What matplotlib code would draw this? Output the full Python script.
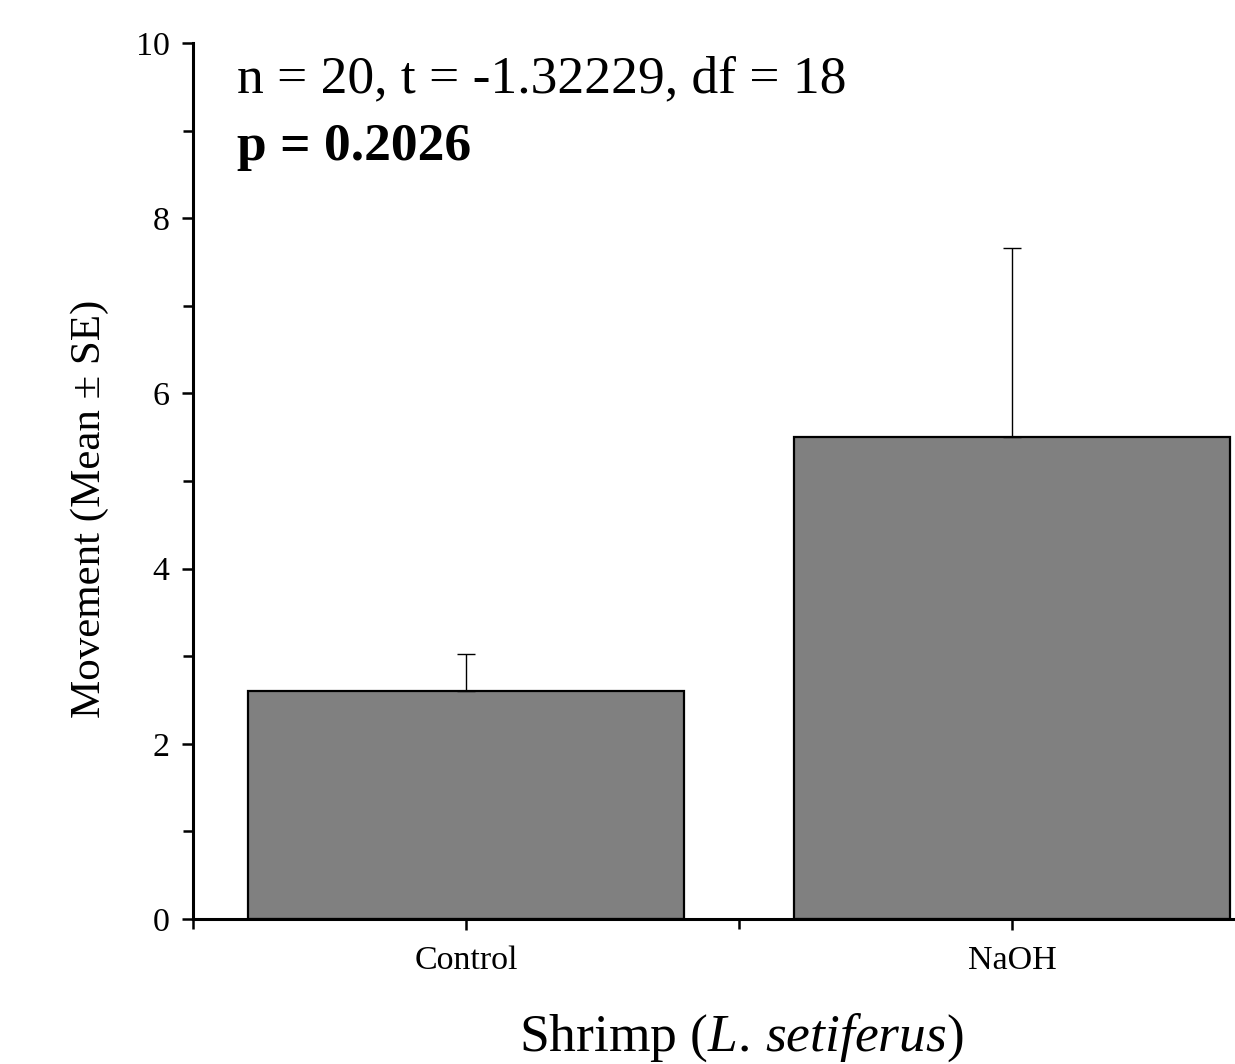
import matplotlib.pyplot as plt
import numpy as np

plt.rcParams['font.family'] = ['Liberation Serif', 'DejaVu Serif']
plt.rcParams['mathtext.fontset'] = 'custom'
plt.rcParams['mathtext.rm'] = 'Liberation Serif'
plt.rcParams['mathtext.it'] = 'Liberation Serif:italic'

# data
groups = ['Control', 'NaOH']
means = [2.6, 5.5]
se = [0.42, 2.16]
stats_line = 'n = 20, t = -1.32229, df = 18'
p_line = 'p = 0.2026'

fig = plt.figure(figsize=(12.35, 10.64), dpi=100)
ax = fig.add_axes([193 / 1235, 145 / 1064, 1040 / 1235, 876 / 1064])

x = np.arange(len(groups))
ax.bar(x, means, width=0.8, color='#808080', edgecolor='black', linewidth=1.6, zorder=2)
ax.errorbar(x, means, yerr=[np.zeros(len(se)), se], fmt='none', ecolor='black',
            elinewidth=1.0, capsize=6.5, capthick=1.0, zorder=3)

ax.set_xlim(-0.5, 1.405)
ax.set_ylim(0, 10)

for s in ['top', 'right']:
    ax.spines[s].set_visible(False)
for s in ['left', 'bottom']:
    ax.spines[s].set_linewidth(2.2)

ax.set_xticks(x)
ax.set_xticklabels(groups)
ax.set_xticks([-0.5, 0.5], minor=True)
ax.set_yticks([0, 2, 4, 6, 8, 10])
ax.set_yticks([1, 3, 5, 7, 9], minor=True)
ax.tick_params(axis='both', which='major', direction='out', length=8, width=1.8,
               labelsize=24.5, pad=9)
ax.tick_params(axis='both', which='minor', direction='out', length=7.5, width=1.8)
ax.tick_params(axis='x', which='major', pad=11)

ax.set_ylabel('Movement (Mean \u00b1 SE)', fontsize=31)
ax.yaxis.set_label_coords(-0.081, 0.468)
ax.set_xlabel('Shrimp ($\\mathit{L.}\\,\\mathit{setiferus}$)', fontsize=38.5)
ax.xaxis.set_label_coords(0.527, -0.106)

fig.text(237 / 1235, 1 - 92 / 1064, stats_line,
         fontsize=38.5, ha='left', va='baseline')
fig.text(237 / 1235, 1 - 160 / 1064, p_line,
         fontsize=38.5, fontweight='bold', ha='left', va='baseline')

fig.savefig('out.png', dpi=100)
